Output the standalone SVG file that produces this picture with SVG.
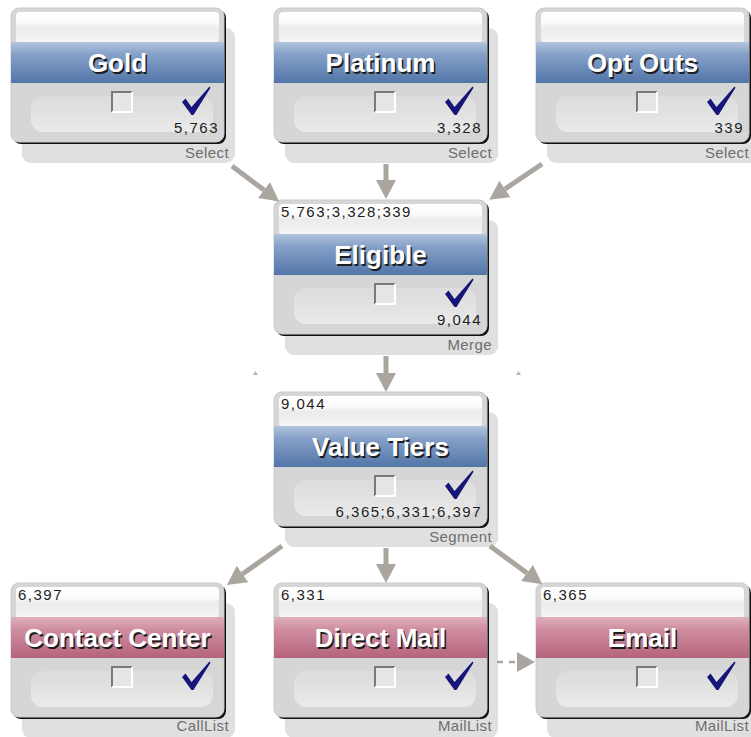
<svg xmlns="http://www.w3.org/2000/svg" xmlns:xlink="http://www.w3.org/1999/xlink" width="751" height="737" viewBox="0 0 751 737">
  <style>
    .title { font-family: "Liberation Sans", Arial, sans-serif; font-weight: bold; font-size: 26px; text-anchor: middle; }
    .t-bg { fill: #1c1c1c; }
    .t-fg { fill: #ffffff; }
    .cnt { font-family: "Liberation Sans", Arial, sans-serif; font-size: 15px; fill: #1e1e1e; letter-spacing: 1.5px; }
    .cnt-r { text-anchor: end; }
    .kind { font-family: "Liberation Sans", Arial, sans-serif; font-size: 15px; fill: #6e6e6e; text-anchor: end; letter-spacing: 0.4px; }
    .link { stroke: #aaa69f; stroke-width: 5; fill: none; marker-end: url(#head); }
    .dash { stroke: #aaa69f; stroke-width: 2.5; stroke-dasharray: 6 6; fill: none; marker-end: url(#headS); }
    .tick { fill: #b8b4ae; }
  </style>
  <defs>
    <linearGradient id="blueBand" x1="0" y1="0" x2="0" y2="1">
      <stop offset="0" stop-color="#b3c4dd"/>
      <stop offset="0.3" stop-color="#86a1c8"/>
      <stop offset="1" stop-color="#5275a8"/>
    </linearGradient>
    <linearGradient id="pinkBand" x1="0" y1="0" x2="0" y2="1">
      <stop offset="0" stop-color="#dfb0bd"/>
      <stop offset="0.3" stop-color="#cf8ea0"/>
      <stop offset="1" stop-color="#b5637b"/>
    </linearGradient>
    <linearGradient id="topWhite" x1="0" y1="0" x2="0" y2="1">
      <stop offset="0" stop-color="#ffffff"/>
      <stop offset="0.35" stop-color="#fbfbfb"/>
      <stop offset="0.5" stop-color="#ececec"/>
      <stop offset="0.75" stop-color="#efefef"/>
      <stop offset="1" stop-color="#f7f7f7"/>
    </linearGradient>
    <linearGradient id="strip" x1="0" y1="0" x2="0" y2="1">
      <stop offset="0" stop-color="#dcdcdc"/>
      <stop offset="0.5" stop-color="#e2e2e2"/>
      <stop offset="1" stop-color="#eaeaea"/>
    </linearGradient>
    <marker id="head" markerUnits="userSpaceOnUse" markerWidth="19" markerHeight="20" viewBox="0 0 19 20" refX="0" refY="10" orient="auto">
      <path d="M0,0 L19,10 L0,20 Z" fill="#aaa69f"/>
    </marker>
    <marker id="headS" markerUnits="userSpaceOnUse" markerWidth="18" markerHeight="20" viewBox="0 0 18 20" refX="0" refY="10" orient="auto">
      <path d="M0,0 L18,10 L0,20 Z" fill="#aaa69f"/>
    </marker>

    <!-- process box body shared by every node (band colour added per node) -->
    <g id="shadow">
      <rect x="11" y="20" width="213" height="135" rx="9" fill="#e0e0e0"/>
    </g>
    <g id="body">
      <rect x="2" y="2" width="213" height="134" rx="8" fill="#111111"/>
      <rect x="0" y="0" width="213" height="134" rx="8" fill="#d6d6d6" stroke="#cacaca" stroke-width="1"/>
      <rect x="5" y="4" width="203" height="31" rx="4" fill="url(#topWhite)"/>
      <rect x="20" y="88" width="182" height="36" rx="12" fill="url(#strip)"/>
      <!-- check box -->
      <rect x="101" y="84" width="20" height="20" fill="#e6e6e6"/>
      <path d="M101,104 V84 H121" fill="none" stroke="#7a7a7a" stroke-width="2"/>
      <path d="M121,84 V104 H101" fill="none" stroke="#ffffff" stroke-width="2"/>
      <!-- run tick -->
      <path d="M171,94 L174.5,90.5 L180.5,99 L198.5,78.5 L199.5,79.8 L182.5,107 L180.5,107 Z" fill="#15157a"/>
    </g>
  </defs>

  <rect width="751" height="737" fill="#ffffff"/>

  <!-- shadows sit under all boxes -->
  <g id="shadows">
    <use xlink:href="#shadow" transform="translate(11,8)"/>
    <use xlink:href="#shadow" transform="translate(274,8)"/>
    <use xlink:href="#shadow" transform="translate(536,8)"/>
    <use xlink:href="#shadow" transform="translate(274,200)"/>
    <use xlink:href="#shadow" transform="translate(274,392)"/>
    <use xlink:href="#shadow" transform="translate(11,583)"/>
    <use xlink:href="#shadow" transform="translate(274,583)"/>
    <use xlink:href="#shadow" transform="translate(536,583)"/>
  </g>

  <g id="node-gold" transform="translate(11,8)">
    <use xlink:href="#body"/>
    <rect x="0" y="34" width="213" height="41" fill="url(#blueBand)"/>
    <text class="title t-bg" x="108" y="65.5">Gold</text>
    <text class="title t-fg" x="106.5" y="64">Gold</text>
    <text class="cnt cnt-r" x="208" y="125">5,763</text>
    <text class="kind" x="218" y="150">Select</text>
  </g>

  <g id="node-platinum" transform="translate(274,8)">
    <use xlink:href="#body"/>
    <rect x="0" y="34" width="213" height="41" fill="url(#blueBand)"/>
    <text class="title t-bg" x="108" y="65.5">Platinum</text>
    <text class="title t-fg" x="106.5" y="64">Platinum</text>
    <text class="cnt cnt-r" x="208" y="125">3,328</text>
    <text class="kind" x="218" y="150">Select</text>
  </g>

  <g id="node-optouts" transform="translate(536,8)">
    <use xlink:href="#body"/>
    <rect x="0" y="34" width="213" height="41" fill="url(#blueBand)"/>
    <text class="title t-bg" x="108" y="65.5">Opt Outs</text>
    <text class="title t-fg" x="106.5" y="64">Opt Outs</text>
    <text class="cnt cnt-r" x="208" y="125">339</text>
    <text class="kind" x="213" y="150">Select</text>
  </g>

  <g id="node-eligible" transform="translate(274,200)">
    <use xlink:href="#body"/>
    <rect x="0" y="34" width="213" height="41" fill="url(#blueBand)"/>
    <text class="cnt" x="7" y="17">5,763;3,328;339</text>
    <text class="title t-bg" x="108" y="65.5">Eligible</text>
    <text class="title t-fg" x="106.5" y="64">Eligible</text>
    <text class="cnt cnt-r" x="208" y="125">9,044</text>
    <text class="kind" x="218" y="150">Merge</text>
  </g>

  <g id="node-valuetiers" transform="translate(274,392)">
    <use xlink:href="#body"/>
    <rect x="0" y="34" width="213" height="41" fill="url(#blueBand)"/>
    <text class="cnt" x="7" y="17">9,044</text>
    <text class="title t-bg" x="108" y="65.5">Value Tiers</text>
    <text class="title t-fg" x="106.5" y="64">Value Tiers</text>
    <text class="cnt cnt-r" x="208" y="125">6,365;6,331;6,397</text>
    <text class="kind" x="218" y="150">Segment</text>
  </g>

  <g id="node-contactcenter" transform="translate(11,583)">
    <use xlink:href="#body"/>
    <rect x="0" y="34" width="213" height="41" fill="url(#pinkBand)"/>
    <text class="cnt" x="7" y="17">6,397</text>
    <text class="title t-bg" x="108" y="65.5">Contact Center</text>
    <text class="title t-fg" x="106.5" y="64">Contact Center</text>
    <text class="kind" x="218" y="148">CallList</text>
  </g>

  <g id="node-directmail" transform="translate(274,583)">
    <use xlink:href="#body"/>
    <rect x="0" y="34" width="213" height="41" fill="url(#pinkBand)"/>
    <text class="cnt" x="7" y="17">6,331</text>
    <text class="title t-bg" x="108" y="65.5">Direct Mail</text>
    <text class="title t-fg" x="106.5" y="64">Direct Mail</text>
    <text class="kind" x="218" y="148">MailList</text>
  </g>

  <g id="node-email" transform="translate(536,583)">
    <use xlink:href="#body"/>
    <rect x="0" y="34" width="213" height="41" fill="url(#pinkBand)"/>
    <text class="cnt" x="7" y="17">6,365</text>
    <text class="title t-bg" x="108" y="65.5">Email</text>
    <text class="title t-fg" x="106.5" y="64">Email</text>
    <text class="kind" x="213" y="148">MailList</text>
  </g>

  <g id="connectors">
    <line class="link" x1="232" y1="166" x2="264" y2="190"/>
    <line class="link" x1="386" y1="164" x2="386" y2="180"/>
    <line class="link" x1="542" y1="164" x2="505" y2="189"/>
    <line class="link" x1="386" y1="356" x2="386" y2="373"/>
    <line class="link" x1="282" y1="546" x2="242.5" y2="574"/>
    <line class="link" x1="386" y1="548" x2="386" y2="564"/>
    <line class="link" x1="490" y1="546" x2="527" y2="573"/>
    <line class="dash" x1="497" y1="662" x2="517" y2="662"/>
    <path class="tick" d="M253,375 L255.5,371 L258,375 Z"/>
    <path class="tick" d="M516,375 L518.5,371 L521,375 Z"/>
  </g>
</svg>
